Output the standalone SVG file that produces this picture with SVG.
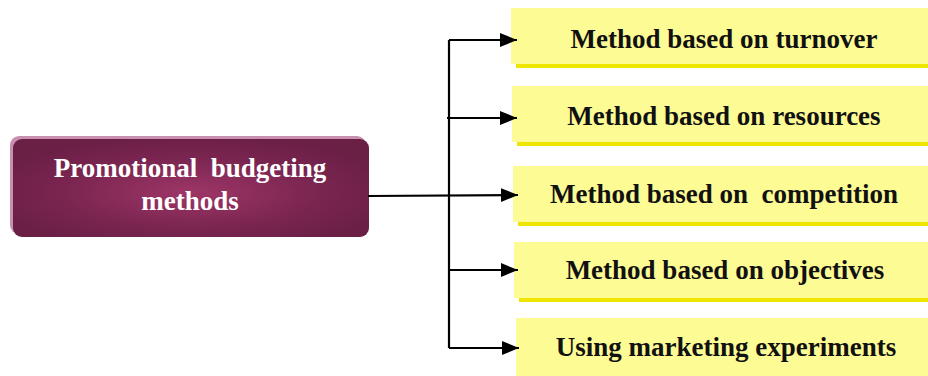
<svg xmlns="http://www.w3.org/2000/svg" width="928" height="376" viewBox="0 0 928 376">
<defs>
<radialGradient id="mag" cx="50%" cy="55%" r="60%">
<stop offset="0" stop-color="#9e3668"/>
<stop offset="0.6" stop-color="#7a2550"/>
<stop offset="1" stop-color="#6a1f45"/>
</radialGradient>
<marker id="arr" markerWidth="18" markerHeight="16" refX="17" refY="8" orient="auto" markerUnits="userSpaceOnUse">
<path d="M0,1 L17,8 L0,15 Z" fill="#000"/>
</marker>
</defs>
<style>
.shadow{fill:#eee600}
.box{fill:#fdfb94}
.lbl{font-family:"Liberation Serif","Times New Roman",serif;font-weight:bold;font-size:27px;fill:#111;text-anchor:middle;white-space:pre}
.main{font-family:"Liberation Serif","Times New Roman",serif;font-weight:bold;font-size:27px;fill:#fff;text-anchor:middle;white-space:pre}
.ln{stroke:#000;stroke-width:2.2;fill:none}
</style>
<g id="root">
<rect x="10" y="136" width="356" height="98" rx="9" fill="#c98fae"/>
<rect x="13" y="139" width="356" height="98" rx="9" fill="url(#mag)"/>
<text class="main" x="190" y="177">Promotional  budgeting</text>
<text class="main" x="190" y="210">methods</text>
</g>
<g id="n1">
<rect class="shadow" x="516" y="12" width="420" height="56"/>
<rect class="box" x="511" y="8" width="420" height="56"/>
<text class="lbl" x="724" y="48">Method based on turnover</text>
</g>
<g id="n2">
<rect class="shadow" x="517" y="90" width="420" height="56"/>
<rect class="box" x="512" y="86" width="420" height="56"/>
<text class="lbl" x="724" y="125">Method based on resources</text>
</g>
<g id="n3">
<rect class="shadow" x="518" y="170" width="420" height="56"/>
<rect class="box" x="513" y="166" width="420" height="56"/>
<text class="lbl" x="724" y="203">Method based on  competition</text>
</g>
<g id="n4">
<rect class="shadow" x="519" y="246" width="420" height="56"/>
<rect class="box" x="514" y="242" width="420" height="56"/>
<text class="lbl" x="725" y="279">Method based on objectives</text>
</g>
<g id="n5">
<rect class="shadow" x="521" y="322" width="420" height="56"/>
<rect class="box" x="516" y="318" width="420" height="60"/>
<text class="lbl" x="726" y="356">Using marketing experiments</text>
</g>
<g id="connectors">
<path class="ln" d="M449,348 L449,40"/>
<path class="ln" d="M449,40 L517,40" marker-end="url(#arr)"/>
<path class="ln" d="M447,118 L517,118" marker-end="url(#arr)"/>
<path class="ln" d="M368,196 L518,195" marker-end="url(#arr)"/>
<path class="ln" d="M449,270 L518,270" marker-end="url(#arr)"/>
<path class="ln" d="M449,348 L519,348" marker-end="url(#arr)"/>
</g>
</svg>
